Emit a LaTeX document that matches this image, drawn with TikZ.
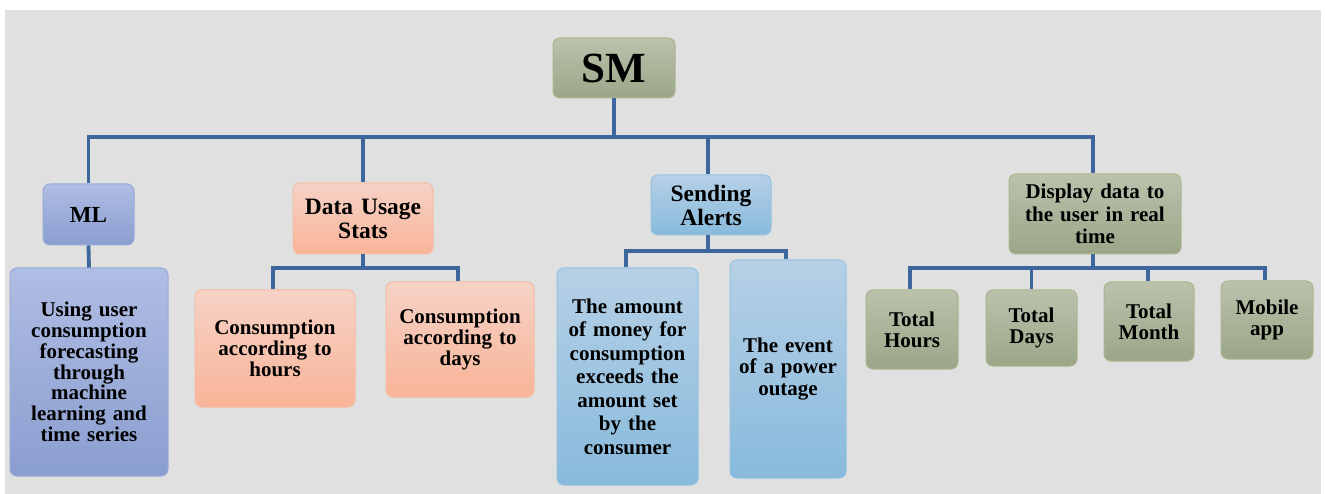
\documentclass[tikz,border=0pt]{standalone}
\usepackage{fontspec}
\setmainfont{Liberation Serif}
\definecolor{bg}{RGB}{224,224,224}
\definecolor{conncol}{RGB}{60,102,156}
\definecolor{olT}{RGB}{186,194,172}
\definecolor{olB}{RGB}{154,166,136}
\definecolor{olD}{RGB}{172,182,142}
\definecolor{blT}{RGB}{176,189,228}
\definecolor{blB}{RGB}{138,158,207}
\definecolor{blD}{RGB}{150,170,218}
\definecolor{saT}{RGB}{246,210,198}
\definecolor{saB}{RGB}{248,180,152}
\definecolor{saD}{RGB}{245,188,160}
\definecolor{lbT}{RGB}{182,208,230}
\definecolor{lbB}{RGB}{136,186,220}
\definecolor{lbD}{RGB}{146,194,226}
\tikzset{
  box/.style={rounded corners=7pt, line width=1pt, align=center, inner sep=0pt,
    font=\bfseries\fontsize{21}{21.3}\selectfont},
  olive/.style={box, draw=olD, top color=olT, bottom color=olB},
  blu/.style={box, draw=blD, top color=blT, bottom color=blB},
  salm/.style={box, draw=saD, top color=saT, bottom color=saB},
  lblu/.style={box, draw=lbD, top color=lbT, bottom color=lbB},
  conn/.style={draw=conncol, line width=3.8pt},
  conns/.style={draw=conncol, line width=3.4pt}
}
\begin{document}
\begin{tikzpicture}[x=1pt,y=-1pt]
\useasboundingbox (0,0) rectangle (1325,494);
\fill[white] (0,0) rectangle (1325,494);
\fill[bg] (5,10) rectangle (1321,494);
% level 0
\node[olive, minimum width=122pt, minimum height=60pt, font=\bfseries\fontsize{43}{45}\selectfont] (SM) at (614,68) {SM};
% level 1
\node[blu, minimum width=91pt, minimum height=61pt, font=\bfseries\fontsize{23}{24}\selectfont] (ML) at (88.5,214.5) {ML};
\node[salm, minimum width=140pt, minimum height=71pt, text width=134pt, font=\bfseries\fontsize{23.5}{24}\selectfont] (DUS) at (363,218.5) {Data Usage\\Stats};
\node[lblu, minimum width=120pt, minimum height=60pt, text width=114pt, font=\bfseries\fontsize{23.5}{24}\selectfont] (SA) at (711,205) {Sending\\Alerts};
\node[olive, minimum width=172pt, minimum height=80pt, text width=166pt, font=\bfseries\fontsize{21}{22.5}\selectfont] (DD) at (1095,214) {Display data to\\the user in real\\time};
% level 2
\node[blu, minimum width=158pt, minimum height=208pt, text width=150pt, font=\bfseries\fontsize{21}{20.8}\selectfont] (UU) at (89,372) {Using user\\consumption\\forecasting\\through\\machine\\learning and\\time series};
\node[salm, minimum width=160pt, minimum height=117pt, text width=154pt] (CH) at (275,348.5) {Consumption\\according to\\hours};
\node[salm, minimum width=148pt, minimum height=115pt, text width=142pt] (CD) at (460,339.5) {Consumption\\according to\\days};
\node[lblu, minimum width=141pt, minimum height=217pt, text width=137pt, font=\bfseries\fontsize{21}{23.5}\selectfont] (AM) at (627.5,376.5) {The amount\\of money for\\consumption\\exceeds the\\amount set\\by the\\consumer};
\node[lblu, minimum width=116pt, minimum height=218pt, text width=112pt] (EV) at (788,369) {The event\\of a power\\outage};
\node[olive, minimum width=92pt, minimum height=79pt, text width=88pt] (TH) at (912,329.5) {Total\\Hours};
\node[olive, minimum width=91pt, minimum height=76pt, text width=87pt] (TD) at (1031.5,328) {Total\\Days};
\node[olive, minimum width=90pt, minimum height=79pt, text width=86pt] (TM) at (1149,321.5) {Total\\Month};
\node[olive, minimum width=92pt, minimum height=78pt, text width=88pt] (MA) at (1267,320) {Mobile\\app};
% connectors level 0 -> 1
\coordinate (bus0) at (614,137);
\draw[conn] (SM.south) -- (SM.south |- bus0) -| (ML.north);
\draw[conn] (SM.south) -- (SM.south |- bus0) -| (DUS.north);
\draw[conn] (SM.south) -- (SM.south |- bus0) -| ([xshift=-3pt]SA.north);
\draw[conn] (SM.south) -- (SM.south |- bus0) -| ([xshift=-2pt]DD.north);
% ML -> UU
\draw[conn] (ML.south) -- (UU.north);
% DUS -> CH, CD
\coordinate (bus1) at (363,268);
\draw[conns] (DUS.south) -- (DUS.south |- bus1) -| ([xshift=-2pt]CH.north);
\draw[conns] (DUS.south) -- (DUS.south |- bus1) -| ([xshift=-2pt]CD.north);
% SA -> AM, EV
\coordinate (bus2) at (708,251);
\draw[conns] ([xshift=-3pt]SA.south) -- ([xshift=-3pt]SA.south |- bus2) -| ([xshift=-1.5pt]AM.north);
\draw[conns] ([xshift=-3pt]SA.south) -- ([xshift=-3pt]SA.south |- bus2) -| ([xshift=-2pt]EV.north);
% DD -> totals
\coordinate (bus3) at (1093,268);
\draw[conns] ([xshift=-2pt]DD.south) -- ([xshift=-2pt]DD.south |- bus3) -| ([xshift=-2pt]TH.north);
\draw[conns] ([xshift=-2pt]DD.south) -- ([xshift=-2pt]DD.south |- bus3) -| (TD.north);
\draw[conns] ([xshift=-2pt]DD.south) -- ([xshift=-2pt]DD.south |- bus3) -| ([xshift=-1pt]TM.north);
\draw[conns] ([xshift=-2pt]DD.south) -- ([xshift=-2pt]DD.south |- bus3) -| ([xshift=-2pt]MA.north);
\end{tikzpicture}
\end{document}
